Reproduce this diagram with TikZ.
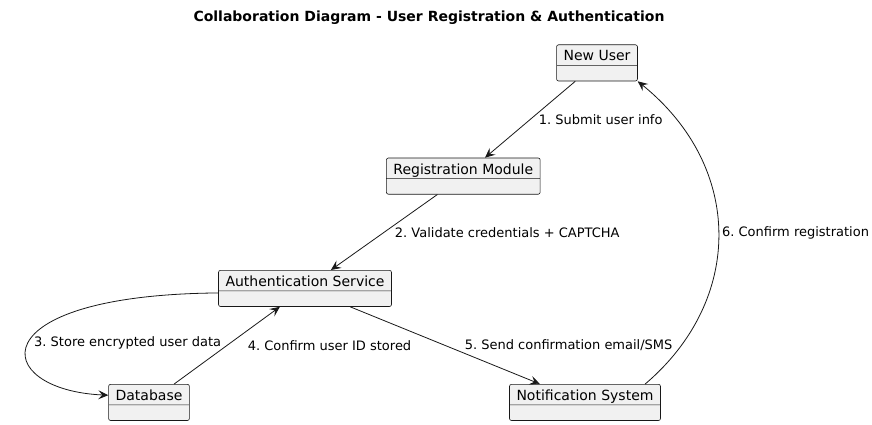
\documentclass[tikz,border=0pt]{standalone}
\usepackage{fontspec}
\setmainfont{DejaVu Sans}
\usetikzlibrary{arrows.meta, shapes.multipart}
\definecolor{objfill}{HTML}{F1F1F1}
\definecolor{ink}{HTML}{181818}
\newcommand{\objname}[1]{\smash{#1}\rule[-1.3pt]{0pt}{14pt}\nodepart{two}}
\frenchspacing

\begin{document}
\begin{tikzpicture}[x=1pt, y=-1pt]

\tikzset{object/.style = {rectangle split, rectangle split parts=2, draw=ink, fill=objfill, rounded corners=2pt, line width=0.6pt, inner xsep=7pt, inner ysep=3pt, rectangle split empty part height=9pt, font=\fontsize{14}{15}\selectfont, anchor=north}}
\tikzset{msg/.style = {-{Stealth[length=10pt,width=9pt,inset=4pt]}, draw=ink, line width=0.8pt}}
\tikzset{msglabel/.style = {font=\fontsize{13}{15}\selectfont, right}}

\useasboundingbox (0,0) rectangle (872,425);
\node[font=\bfseries\fontsize{14}{16}\selectfont] (title) at (429,18) {Collaboration Diagram - User Registration \& Authentication};
% objects
\node[object] (user) at (597,44.5) {\objname{New User}};
\node[object] (reg) at (463.3,157.7) {\objname{Registration Module}};
\node[object] (auth) at (305,270) {\objname{Authentication Service}};
\node[object] (db) at (149,384) {\objname{Database}};
\node[object] (notify) at (585,384) {\objname{Notification System}};
% messages
\draw[msg] (user) -- (reg) node[msglabel, midway, xshift=5pt] {1. Submit user info};
\draw[msg] (reg) -- (auth) node[msglabel, midway, xshift=7pt] {2. Validate credentials + CAPTCHA};
\draw[msg] (auth.183) .. controls (-24,295) and (-9,390) .. (db.170) node[msglabel, pos=0.5, xshift=2pt] {3. Store encrypted user data};
\draw[msg] (db) -- (auth) node[msglabel, midway, xshift=17pt] {4. Confirm user ID stored};
\draw[msg] (auth) -- (notify) node[msglabel, midway, xshift=16pt] {5. Send confirmation email/SMS};
\draw[msg] (notify.17) .. controls (744,300) and (744,167) .. (user.south east) node[msglabel, pos=0.5, xshift=0pt] {6. Confirm registration};

\end{tikzpicture}
\end{document}
